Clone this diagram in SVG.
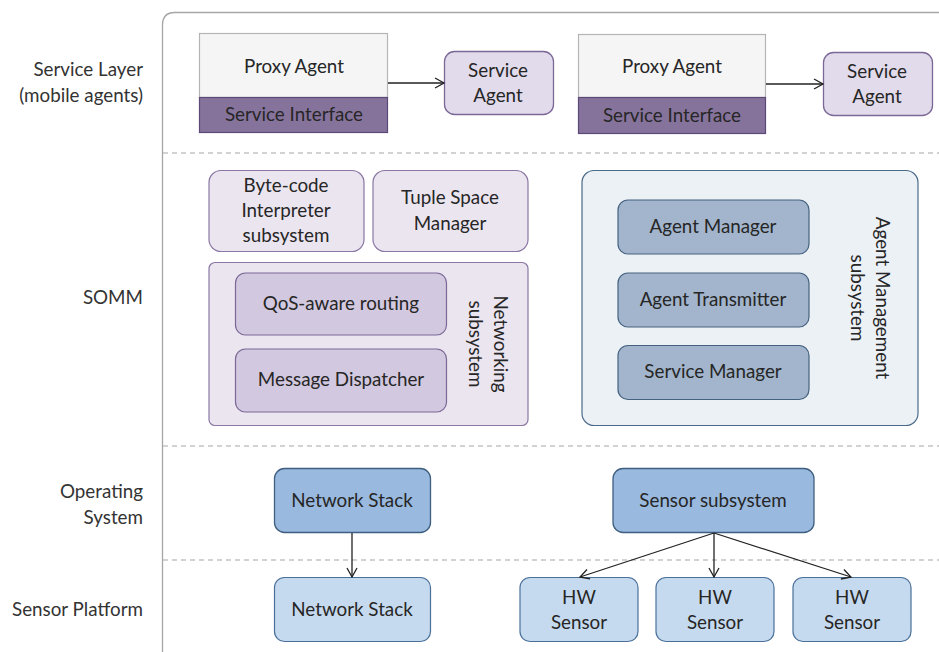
<svg xmlns="http://www.w3.org/2000/svg" width="939" height="652" viewBox="0 0 939 652">
<defs>
<style>
text{font-family:Lato,"Open Sans","Liberation Sans",sans-serif;font-size:18.8px;fill:#262626;text-anchor:middle}
.lbl{text-anchor:end;fill:#333}
.frame{fill:none;stroke:#a6a6a6;stroke-width:1.3}
.dash{stroke:#a6a6a6;stroke-width:1.2;stroke-dasharray:5 4}
.proxy{fill:#f4f5f4;stroke:#b5b5b5;stroke-width:1.2}
.si{fill:#86739c;stroke:#5d4978;stroke-width:1.2}
.sa{fill:#e2dbeb;stroke:#7b6896;stroke-width:1.3}
.pl{fill:#ebe5f0;stroke:#8a77a3;stroke-width:1.2}
.pd{fill:#d2c8df;stroke:#7b6896;stroke-width:1.2}
.bl{fill:#ecf1f6;stroke:#4a6a8a;stroke-width:1.2}
.bd{fill:#a2b5cc;stroke:#44627f;stroke-width:1.2}
.os{fill:#99b9de;stroke:#3f5f80;stroke-width:1.3}
.hw{fill:#c6daef;stroke:#4a7099;stroke-width:1.2}
.conn{stroke:#222;stroke-width:1.3;fill:none}
</style>
<marker id="arr" markerWidth="12" markerHeight="12" refX="10" refY="6" orient="auto" markerUnits="userSpaceOnUse">
<path d="M1,1 L10,6 L1,11" fill="none" stroke="#222" stroke-width="1.3"/>
</marker>
</defs>
<rect width="939" height="652" fill="#fff"/>
<path class="frame" d="M162.5,652 V25 Q162.5,12.5 175,12.5 H939"/>
<line class="dash" x1="163" y1="153" x2="939" y2="153"/>
<line class="dash" x1="163" y1="446" x2="939" y2="446"/>
<line class="dash" x1="163" y1="560" x2="939" y2="560"/>
<g id="layer-labels">
<text class="lbl" x="143" y="76">Service Layer</text>
<text class="lbl" x="143" y="102">(mobile agents)</text>
<text class="lbl" x="143" y="304">SOMM</text>
<text class="lbl" x="143" y="498">Operating</text>
<text class="lbl" x="143" y="524">System</text>
<text class="lbl" x="143" y="616">Sensor Platform</text>
</g>
<g id="proxy1">
<rect class="proxy" x="199.5" y="33.5" width="188" height="64"/>
<rect class="si" x="199.5" y="97.5" width="188" height="35"/>
<text x="294" y="73">Proxy Agent</text>
<text x="294" y="121">Service Interface</text>
</g>
<g id="service-agent1">
<rect class="sa" x="444.5" y="51.5" width="109" height="63" rx="10"/>
<text x="498" y="77">Service</text>
<text x="498" y="102">Agent</text>
</g>
<g id="proxy2">
<rect class="proxy" x="578.5" y="34.5" width="187" height="63"/>
<rect class="si" x="578.5" y="97.5" width="187" height="36"/>
<text x="672" y="73">Proxy Agent</text>
<text x="672" y="122">Service Interface</text>
</g>
<g id="service-agent2">
<rect class="sa" x="823.5" y="52.5" width="109" height="63" rx="10"/>
<text x="877" y="78">Service</text>
<text x="877" y="103">Agent</text>
</g>
<g id="bytecode">
<rect class="pl" x="209" y="170.5" width="155" height="81" rx="12"/>
<text x="286" y="192">Byte-code</text>
<text x="286" y="217">Interpreter</text>
<text x="286" y="242">subsystem</text>
</g>
<g id="tuple">
<rect class="pl" x="373" y="170.5" width="155" height="81" rx="12"/>
<text x="450" y="204">Tuple Space</text>
<text x="450" y="230">Manager</text>
</g>
<g id="networking">
<rect class="pl" x="209" y="262.5" width="319" height="163" rx="6"/>
<text transform="translate(484,344) rotate(90)" y="-10">Networking</text>
<text transform="translate(484,344) rotate(90)" y="15">subsystem</text>
</g>
<g id="qos">
<rect class="pd" x="235.5" y="273" width="211" height="62" rx="10"/>
<text x="341" y="310">QoS-aware routing</text>
</g>
<g id="dispatcher">
<rect class="pd" x="235.5" y="349" width="211" height="63" rx="10"/>
<text x="341" y="386">Message Dispatcher</text>
</g>
<g id="agent-mgmt">
<rect class="bl" x="582" y="170.5" width="336" height="255" rx="12"/>
<text transform="translate(866,298) rotate(90)" y="-10">Agent Management</text>
<text transform="translate(866,298) rotate(90)" y="15">subsystem</text>
</g>
<g id="agent-manager">
<rect class="bd" x="618" y="200" width="191" height="54" rx="10"/>
<text x="713" y="233">Agent Manager</text>
</g>
<g id="agent-transmitter">
<rect class="bd" x="618" y="273" width="191" height="54" rx="10"/>
<text x="713" y="306">Agent Transmitter</text>
</g>
<g id="service-manager">
<rect class="bd" x="618" y="345.5" width="191" height="54" rx="10"/>
<text x="713" y="378">Service Manager</text>
</g>
<g id="os-netstack">
<rect class="os" x="274.5" y="468.5" width="156" height="64" rx="10"/>
<text x="352" y="507">Network Stack</text>
</g>
<g id="sensor-subsystem">
<rect class="os" x="613" y="468.5" width="201" height="64" rx="10"/>
<text x="713" y="507">Sensor subsystem</text>
</g>
<g id="hw-netstack">
<rect class="hw" x="274.5" y="577.5" width="156" height="64" rx="10"/>
<text x="352" y="616">Network Stack</text>
</g>
<g id="hw1">
<rect class="hw" x="520" y="577.5" width="118" height="64" rx="10"/>
<text x="579" y="604">HW</text>
<text x="579" y="629">Sensor</text>
</g>
<g id="hw2">
<rect class="hw" x="656" y="577.5" width="118" height="64" rx="10"/>
<text x="715" y="604">HW</text>
<text x="715" y="629">Sensor</text>
</g>
<g id="hw3">
<rect class="hw" x="793" y="577.5" width="118" height="64" rx="10"/>
<text x="852" y="604">HW</text>
<text x="852" y="629">Sensor</text>
</g>
<g id="connectors">
<line class="conn" x1="388" y1="83" x2="444" y2="83" marker-end="url(#arr)"/>
<line class="conn" x1="766" y1="84" x2="823" y2="84" marker-end="url(#arr)"/>
<line class="conn" x1="352" y1="533" x2="352" y2="577" marker-end="url(#arr)"/>
<line class="conn" x1="714" y1="533" x2="580" y2="577" marker-end="url(#arr)"/>
<line class="conn" x1="714" y1="533" x2="714" y2="577" marker-end="url(#arr)"/>
<line class="conn" x1="714" y1="533" x2="851" y2="577" marker-end="url(#arr)"/>
</g>
</svg>
